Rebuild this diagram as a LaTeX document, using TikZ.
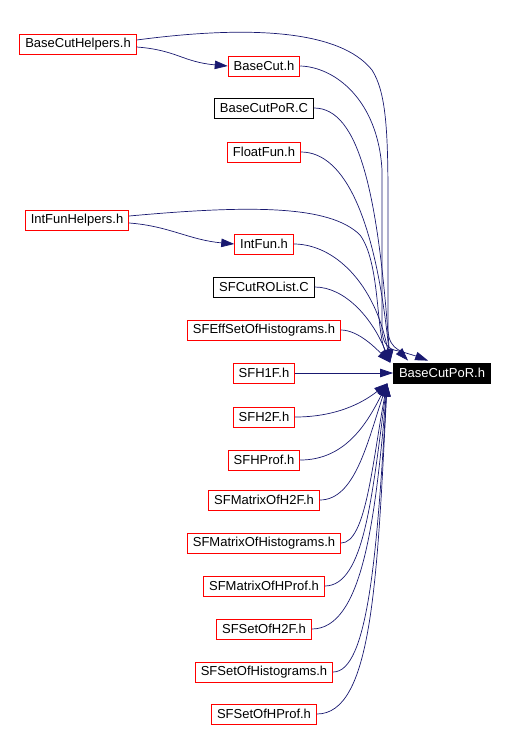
\documentclass[tikz,border=0pt]{standalone}
\usepackage{fontspec}
\setmainfont{Liberation Sans}
\usetikzlibrary{arrows.meta,calc}
\definecolor{edgeblue}{RGB}{25,25,112}

\begin{document}
\begin{tikzpicture}[x=1pt,y=-1pt,
	file/.style={draw=red, fill=white, line width=.8pt, minimum height=20pt,
		inner xsep=5.5pt, inner ysep=0pt, font=\fontsize{13}{15}\selectfont},
	filek/.style={file, draw=black},
	curfile/.style={file, draw=black, fill=black, text=white},
	edge/.style={draw=edgeblue, line width=.7pt, -{Triangle[length=13pt,width=8.5pt]}}]
\useasboundingbox (0,0) rectangle (505,729);

%%%%%%%%%%%%%%%%%%%%%%%%%%%%%%%%%%%%%%%%%%%%%%%% 	NODOS
\node[file]  (hlp)    at (78,44)   {BaseCutHelpers.h};
\node[file]  (bc)     at (264,66)  {BaseCut.h};
\node[filek] (bcc)    at (264,108) {BaseCutPoR.C};
\node[file]  (ff)     at (264,152) {FloatFun.h};
\node[file]  (ifh)    at (77,220)  {IntFunHelpers.h};
\node[file]  (ifn)    at (264,244) {IntFun.h};
\node[filek] (sfcut)  at (264,287) {SFCutROList.C};
\node[file]  (sfeff)  at (264,330) {SFEffSetOfHistograms.h};
\node[file]  (h1f)    at (264,373) {SFH1F.h};
\node[curfile] (por)  at (442,373) {BaseCutPoR.h};
\node[file]  (h2f)    at (264,417) {SFH2F.h};
\node[file]  (hprof)  at (264,460) {SFHProf.h};
\node[file]  (mh2f)   at (264,500) {SFMatrixOfH2F.h};
\node[file]  (mhist)  at (264,543) {SFMatrixOfHistograms.h};
\node[file]  (mhprof) at (264,586) {SFMatrixOfHProf.h};
\node[file]  (sh2f)   at (264,629) {SFSetOfH2F.h};
\node[file]  (shist)  at (264,672) {SFSetOfHistograms.h};
\node[file]  (shprof) at (264,714) {SFSetOfHProf.h};

%%%%%%%%%%%%%%%%%%%%%%%%%%%%%%%%%%%%%%%%%%%%%%%% 	PUNTAS DE LLEGADA
\coordinate (tA) at ([xshift=35pt,yshift=2pt]por.north west);	%%%% la de mas afuera
\coordinate (tB) at ([xshift=15pt,yshift=2pt]por.north west);
\coordinate (tC) at ([xshift=-3pt]por.north west);				%%%% las de arriba
\coordinate (tD) at ([xshift=-6pt]por.south west);				%%%% las de abajo

%%%%%%%%%%%%%%%%%%%%%%%%%%%%%%%%%%%%%%%%%%%%%%%% 	HELPERS
\draw[edge] ([yshift=-3pt]hlp.east) .. controls +(40,3) and +(-45,-4) .. (bc.west);
\draw[edge] ([yshift=-3pt]ifh.east) .. controls +(40,3) and +(-45,-4) .. (ifn.west);

\draw[edge] ([yshift=4pt]hlp.east) .. controls (250,25) and (340,30) .. (372,70)
	.. controls (386,92) and (388,130) .. (388,200) -- (388,330)
	.. controls (389,352) and (405,352) .. (tA);
\draw[edge] ([yshift=4pt]ifh.east) .. controls (250,205) and (330,205) .. (360,235)
	.. controls (380,262) and (376,330) .. (tC);

%%%%%%%%%%%%%%%%%%%%%%%%%%%%%%%%%%%%%%%%%%%%%%%% 	ARRIBA
\draw[edge] (bc.east) .. controls (335,67) and (378,100) .. (382,170) -- (382,330)
	.. controls (383,352) and (398,350) .. (tB);
\foreach \n/\a/\b/\c in {bcc/45/-12/-170, ff/45/-14/-140, ifn/40/-15/-80,
		sfcut/30/-18/-45, sfeff/18/-12/-12}
	\draw[edge] (\n.east) .. controls +(\a,0) and +(\b,\c) .. (tC);

%%%%%%%%%%%%%%%%%%%%%%%%%%%%%%%%%%%%%%%%%%%%%%%% 	DERECHO
\draw[edge] (h1f.east) -- (por.west);

%%%%%%%%%%%%%%%%%%%%%%%%%%%%%%%%%%%%%%%%%%%%%%%% 	ABAJO
\foreach \n/\a/\b/\c in {h2f/40/-25/20, hprof/45/-20/40, mh2f/35/-20/60,
		mhist/25/-15/80, mhprof/40/-15/110, sh2f/50/-12/140,
		shist/35/-10/170, shprof/55/-10/200}
	\draw[edge] (\n.east) .. controls +(\a,0) and +(\b,\c) .. (tD);

\end{tikzpicture}
\end{document}
